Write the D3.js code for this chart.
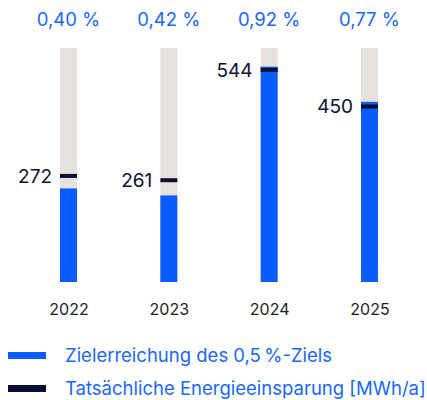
<!DOCTYPE html>
<html><head><meta charset="utf-8">
<script src="https://cdn.jsdelivr.net/npm/d3@7"></script>
<style>body{margin:0;background:#fff}svg{display:block;font-family:Inter,"Noto Sans",sans-serif}</style>
</head><body><svg id="c" width="427" height="400"></svg>
<script>
const years = ["2022","2023","2024","2025"];
const targetShare = [0.40, 0.37, 0.92, 0.77];      // blue bar (share of target, scale 0–1 %)
const shareLabels = ["0,40 %","0,42 %","0,92 %","0,77 %"];
const savings = [272, 261, 544, 450];              // MWh/a
const legendLabels = ["Zielerreichung des 0,5\u202F%-Ziels","Tatsächliche Energieeinsparung [MWh/a]"];

const BLUE="#0a5cff", GREY="#e6e1de", NAVY="#0b1033";
const svg=d3.select("#c");
const x=d3.scalePoint().domain(years).range([68.5,369.5]);
const yM=d3.scaleLinear().domain([0,600]).range([282,48]);
const yP=d3.scaleLinear().domain([0,1]).range([282,48]);
const bw=17;

const g=svg.append("g");
g.selectAll("rect.bg").data(years).join("rect").attr("class","bg")
 .attr("x",d=>x(d)-bw/2).attr("width",bw).attr("y",yP(1)).attr("height",yP(0)-yP(1)).attr("fill",GREY);
g.selectAll("rect.v").data(years).join("rect").attr("class","v")
 .attr("x",d=>x(d)-bw/2).attr("width",bw).attr("y",(d,i)=>yP(targetShare[i])).attr("height",(d,i)=>yP(0)-yP(targetShare[i])).attr("fill",BLUE);
g.selectAll("rect.m").data(years).join("rect").attr("class","m")
 .attr("x",d=>x(d)-bw/2).attr("width",bw).attr("y",(d,i)=>yM(savings[i])-2).attr("height",4).attr("fill",NAVY);
g.selectAll("text.val").data(years).join("text").attr("class","val")
 .attr("x",d=>x(d)-bw/2-8).attr("y",(d,i)=>yM(savings[i])).attr("dy","0.36em")
 .attr("text-anchor","end").attr("font-size",19).attr("fill",NAVY).text((d,i)=>savings[i]);
g.selectAll("text.pct").data(years).join("text").attr("class","pct")
 .attr("x",d=>x(d)).attr("y",25.5).attr("text-anchor","middle").attr("font-size",18.5).attr("fill","#1a66ff").text((d,i)=>shareLabels[i]);

const xAxis=d3.axisBottom(x).tickSize(0).tickPadding(0);
const ax=svg.append("g").attr("transform","translate(0,300)").call(xAxis);
ax.select(".domain").remove();
ax.selectAll("text").attr("font-size",16).attr("fill","#1e1e1e").attr("font-family","Inter,'Noto Sans',sans-serif").attr("dy","0.95em");

const lg=svg.selectAll("g.lg").data(legendLabels).join("g").attr("class","lg")
 .attr("transform",(d,i)=>`translate(8,${355.5+i*33})`);
lg.append("rect").attr("x",0).attr("y",-3.5).attr("width",38).attr("height",7).attr("fill",(d,i)=>i?NAVY:BLUE);
lg.append("text").attr("x",57).attr("y",0).attr("dy","0.36em").attr("font-size",18.5).attr("fill","#1a66ff").text(d=>d);
</script></body></html>
